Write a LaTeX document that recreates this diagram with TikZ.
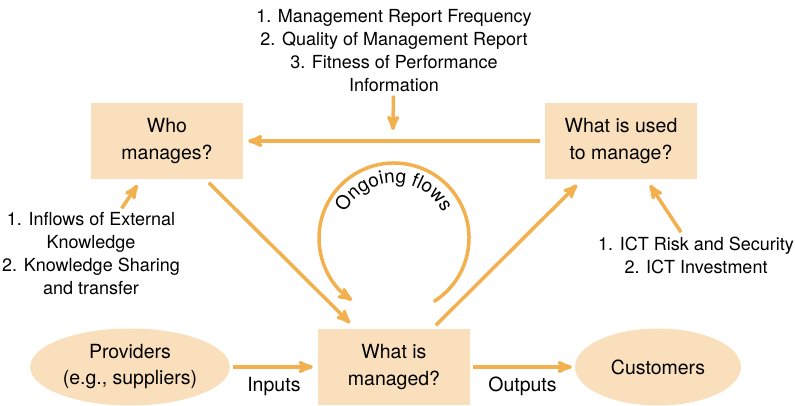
\documentclass[tikz,border=0pt]{standalone}
\usepackage{fontspec}
\setmainfont{TeX Gyre Heros}
\usetikzlibrary{positioning, arrows, shapes.geometric, decorations.text}
\definecolor{boxc}{HTML}{F9DFBB}
\definecolor{flowc}{HTML}{F3B04E}
\tikzset{
->, % every connector is directed
>=stealth', % arrow heads
flow/.style={draw=flowc, line width=3.5pt}, % the orange connectors
area/.style={rectangle, fill=boxc, minimum width=152pt, minimum height=76pt, align=center, font=\fontsize{19.5}{27}\selectfont}, % the three questions
party/.style={ellipse, fill=boxc, minimum width=166pt, minimum height=77pt, align=center, font=\fontsize{19.5}{26}\selectfont}, % outside parties
factors/.style={align=center, font=\fontsize{18}{23}\selectfont}, % lists of factors
}

\begin{document}
\begin{tikzpicture}[x=1pt, y=1pt]
\useasboundingbox (0,0) rectangle (795,406);
\node[area] (managed) at (394,39) {What is\\managed?};
\node[party, left of=managed, node distance=264pt] (providers) {Providers\\(e.g., suppliers)};
\node[party, right of=managed, node distance=264pt] (customers) {Customers};
\node[area] (who) at (167,265) {Who\\manages?};
\node[area, right of=who, node distance=454pt] (used) {What is used\\to manage?};
\node[factors] (reports) at (394,355) {1. Management Report Frequency\\2. Quality of Management Report\\3. Fitness of Performance\\Information};
\node[factors] (knowledge) at (91,152) {1. Inflows of External\\Knowledge\\2. Knowledge Sharing\\and transfer};
\node[factors] (ict) at (696,151) {1. ICT Risk and Security\\2. ICT Investment};
\coordinate (feedin) at (393,276);
\coordinate (loopc) at (394,168);
\draw[flow] (reports) -- (feedin);
\draw[flow, shorten <=5pt, shorten >=5pt] (used) -- (who);
\draw[flow, shorten <=1pt, shorten >=7pt] (knowledge) -- (who);
\draw[flow, shorten <=1pt, shorten >=7pt] (ict) -- (used);
\draw[flow, shorten <=5pt, shorten >=8pt] (who) -- (managed);
\draw[flow, shorten <=5pt, shorten >=8pt] (managed) -- (used);
\draw[flow, shorten <=3pt, shorten >=5pt] (providers) -- node[below=5pt, text=black, font=\fontsize{19.5}{24}\selectfont] (inputs) {Inputs} (managed);
\draw[flow, shorten <=3pt, shorten >=3pt] (managed) -- node[below=5pt, text=black, font=\fontsize{19.5}{24}\selectfont] (outputs) {Outputs} (customers);
\draw[flow] (loopc) ++(-58:75) arc[start angle=-58, end angle=236, radius=75];
\path[decorate, decoration={text along path, text align=center, text={|\fontsize{19}{19}\selectfont|Ongoing flows}}]
  (loopc) ++(158:55) arc[start angle=158, end angle=22, radius=55];
\end{tikzpicture}
\end{document}
